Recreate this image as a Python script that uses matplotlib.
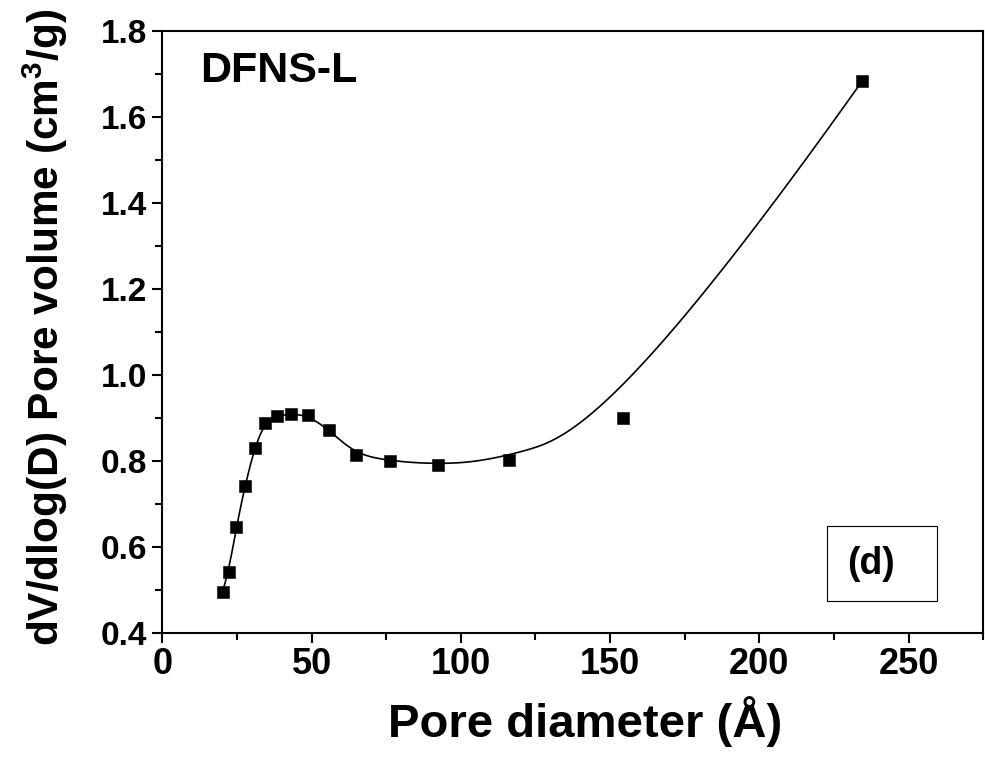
import numpy as np
import matplotlib
matplotlib.use("Agg")
from matplotlib import pyplot as plt
from matplotlib.patches import Rectangle
from matplotlib.ticker import MultipleLocator

# values
pore_diameter = [20.2, 22.2, 24.8, 27.7, 30.9, 34.3, 38.5, 43.1, 48.7,
                 55.9, 64.8, 76.4, 92.4, 116.2, 154.4, 234.5]
pore_volume = [0.497, 0.543, 0.647, 0.743, 0.831, 0.890, 0.906, 0.910, 0.907,
               0.873, 0.815, 0.801, 0.792, 0.803, 0.901, 1.685]

sample_name = "DFNS-L"
panel_tag = "(d)"


def bspline(px, py, k=3, num=500):
    """Clamped uniform B-spline using the data points as control points."""
    px = np.asarray(px, float)
    py = np.asarray(py, float)
    n = len(px)
    t = np.concatenate([np.zeros(k), np.linspace(0, 1, n - k + 1), np.ones(k)])
    u = np.linspace(0, 1, num)
    N = np.zeros((num, len(t) - 1))
    for i in range(len(t) - 1):
        N[:, i] = (t[i] <= u) & (u < t[i + 1])
    N[u >= 1.0, :] = 0
    N[u >= 1.0, n - 1] = 1
    for d in range(1, k + 1):
        Nn = np.zeros((num, len(t) - 1 - d))
        for i in range(len(t) - 1 - d):
            a = 0.0
            b = 0.0
            if t[i + d] != t[i]:
                a = (u - t[i]) / (t[i + d] - t[i]) * N[:, i]
            if t[i + d + 1] != t[i + 1]:
                b = (t[i + d + 1] - u) / (t[i + d + 1] - t[i + 1]) * N[:, i + 1]
            Nn[:, i] = a + b
        N = Nn
    return N @ px, N @ py


plt.rcParams.update({
    "font.family": ["Liberation Sans", "DejaVu Sans"],
    "font.weight": "bold",
    "mathtext.fontset": "custom",
    "mathtext.rm": "Liberation Sans:bold",
    "mathtext.bf": "Liberation Sans:bold",
    "mathtext.it": "Liberation Sans:bold",
})

W, H = 985, 765
fig = plt.figure(figsize=(W / 100, H / 100), dpi=100)
ax = fig.add_axes([162.3 / W, 1 - 633.3 / H, (983.3 - 162.3) / W, (633.3 - 31.3) / H])

cx, cy = bspline(pore_diameter, pore_volume)
ax.plot(cx, cy, color="black", lw=1.2, zorder=2)
ax.plot(pore_diameter, pore_volume, ls="none", marker="s", ms=9.2,
        color="black", mec="black", mew=0.4, zorder=3)

ax.set_xlim(0, 275)
ax.set_ylim(0.4, 1.8)
ax.xaxis.set_major_locator(MultipleLocator(50))
ax.xaxis.set_minor_locator(MultipleLocator(25))
ax.yaxis.set_major_locator(MultipleLocator(0.2))
ax.yaxis.set_minor_locator(MultipleLocator(0.1))
ax.yaxis.set_major_formatter(matplotlib.ticker.FormatStrFormatter("%.1f"))

for s in ax.spines.values():
    s.set_linewidth(1.5)
ax.tick_params(which="both", direction="out", width=1.5, top=False, right=False)
ax.tick_params(which="major", length=7)
ax.tick_params(which="minor", length=5)
ax.tick_params(axis="y", which="major", labelsize=24, pad=4)
ax.tick_params(axis="x", which="major", labelsize=26, pad=3)
for lbl in ax.get_xticklabels() + ax.get_yticklabels():
    lbl.set_fontweight("bold")

fig.text(585 / W, 1 - 722 / H, "Pore diameter (Å)", ha="center", va="center",
         fontsize=34, fontweight="bold")
fig.text(45 / W, 1 - 327 / H, r"dV/dlog(D) Pore volume (cm$^{3}$/g)",
         ha="center", va="center", rotation=90, fontsize=30.5, fontweight="bold")

fig.text(200 / W, 1 - 82 / H, sample_name, ha="left", va="baseline",
         fontsize=31, fontweight="bold")

fig.patches.append(Rectangle((826.7 / W, 1 - 600.7 / H), (937.3 - 826.7) / W,
                             (600.7 - 525.7) / H, transform=fig.transFigure,
                             fill=False, edgecolor="black", lw=0.8))
fig.text(847 / W, 1 - 564 / H, panel_tag, ha="left", va="center",
         fontsize=27, fontweight="bold")

fig.savefig("out.png", dpi=100)
